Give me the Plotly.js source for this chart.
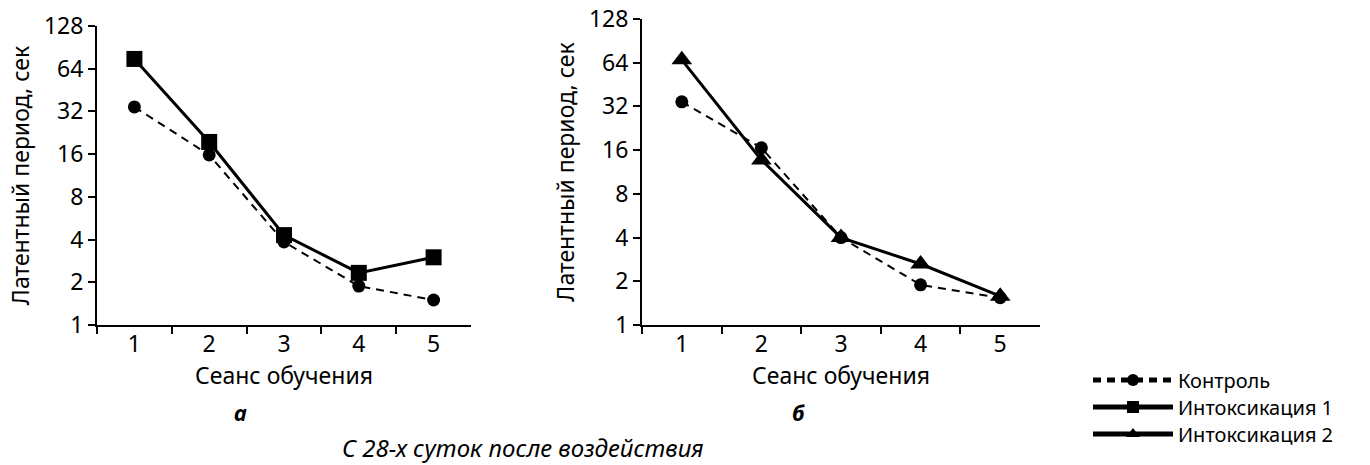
<!DOCTYPE html>
<html><head><meta charset="utf-8">
<script src="https://cdn.plot.ly/plotly-3.0.1.min.js"></script>
<style>html,body{margin:0;padding:0;background:#fff}</style>
</head><body>
<div id="chart" style="width:1370px;height:465px"></div>
<script>
const sessions = ['1','2','3','4','5'];
const controlA = [34.4, 15.8, 3.85, 1.88, 1.5];
const intox1A = [75, 19.5, 4.3, 2.33, 3.0];
const controlB = [34.4, 16.6, 4.0, 1.89, 1.54];
const intox2B = [67, 13.7, 4.0, 2.63, 1.58];
const yTicks = [1, 2, 4, 8, 16, 32, 64, 128];
const names = ['Контроль', 'Интоксикация 1', 'Интоксикация 2'];

const FONT = 'Noto Sans, Open Sans, sans-serif';
const FS = 23;

const ctrlStyle = {line:{color:'#000', width:2, dash:'8px,6px'}, marker:{symbol:'circle', size:13, color:'#000'}};
const i1Style = {line:{color:'#000', width:3}, marker:{symbol:'square', size:16, color:'#000'}};
const i2Style = {line:{color:'#000', width:3}, marker:{symbol:'triangle-up', size:18, color:'#000'}};

const data = [
  Object.assign({x:sessions, y:controlA, name:names[0], mode:'lines+markers', xaxis:'x', yaxis:'y', showlegend:true, legend:'legend'}, ctrlStyle),
  Object.assign({x:sessions, y:intox1A, name:names[1], mode:'lines+markers', xaxis:'x', yaxis:'y', showlegend:true, legend:'legend2'}, i1Style),
  Object.assign({x:sessions, y:controlB, name:names[0], mode:'lines+markers', xaxis:'x2', yaxis:'y2', showlegend:false}, ctrlStyle),
  Object.assign({x:sessions, y:intox2B, name:names[2], mode:'lines+markers', xaxis:'x2', yaxis:'y2', showlegend:true, legend:'legend3'}, i2Style)
];

function xax(domain, anchor){
  return {domain:domain, anchor:anchor, type:'category', categoryorder:'array', categoryarray:sessions,
    range:[-0.5, 4.5], tickson:'boundaries', ticks:'outside', ticklen:7, tickwidth:2, tickcolor:'#000',
    ticklabelstandoff:-3,
    showline:true, linecolor:'#000', linewidth:2, showgrid:false, zeroline:false,
    tickfont:{family:FONT, size:FS, color:'#000'},
    title:{text:'Сеанс обучения', font:{family:FONT, size:FS, color:'#000'}, standoff:6}};
}
function yax(domain, anchor){
  return {domain:domain, anchor:anchor, type:'log', range:[0, Math.log10(128)],
    tickmode:'array', tickvals:yTicks, ticktext:yTicks.map(String),
    ticks:'outside', ticklen:7, tickwidth:2, tickcolor:'#000',
    showline:true, linecolor:'#000', linewidth:2, showgrid:false, zeroline:false,
    tickfont:{family:FONT, size:FS, color:'#000'},
    title:{text:'Латентный период, сек', font:{family:FONT, size:FS, color:'#000'}, standoff:8}};
}
function leg(yc){
  return {x:1088/1370, y:1-yc/465, xanchor:'left', yanchor:'middle', itemwidth:80, itemsizing:'constant',
    font:{family:FONT, size:20, color:'#000'}, bgcolor:'rgba(0,0,0,0)', borderwidth:0};
}

const layout = {
  width:1370, height:465, margin:{l:0, r:0, t:0, b:0},
  paper_bgcolor:'#fff', plot_bgcolor:'#fff',
  font:{family:FONT, size:FS, color:'#000'},
  xaxis: xax([97/1370, 471/1370], 'y'),
  yaxis: yax([1-325/465, 1-26/465], 'x'),
  xaxis2: xax([642/1370, 1040/1370], 'y2'),
  yaxis2: yax([1-325/465, 1-19/465], 'x2'),
  legend: leg(380),
  legend2: leg(407),
  legend3: leg(434),
  annotations:[
    {text:'<b><i>а</i></b>', x:240/1370, y:1-412/465, xref:'paper', yref:'paper', xanchor:'center', yanchor:'middle', showarrow:false, font:{family:FONT, size:22, color:'#000'}},
    {text:'<b><i>б</i></b>', x:798/1370, y:1-412/465, xref:'paper', yref:'paper', xanchor:'center', yanchor:'middle', showarrow:false, font:{family:FONT, size:22, color:'#000'}},
    {text:'<i>С 28-х суток после воздействия</i>', x:523/1370, y:1-447/465, xref:'paper', yref:'paper', xanchor:'center', yanchor:'middle', showarrow:false, font:{family:FONT, size:24, color:'#000'}}
  ]
};

Plotly.newPlot('chart', data, layout, {displayModeBar:false, staticPlot:true});
</script>
</body></html>
